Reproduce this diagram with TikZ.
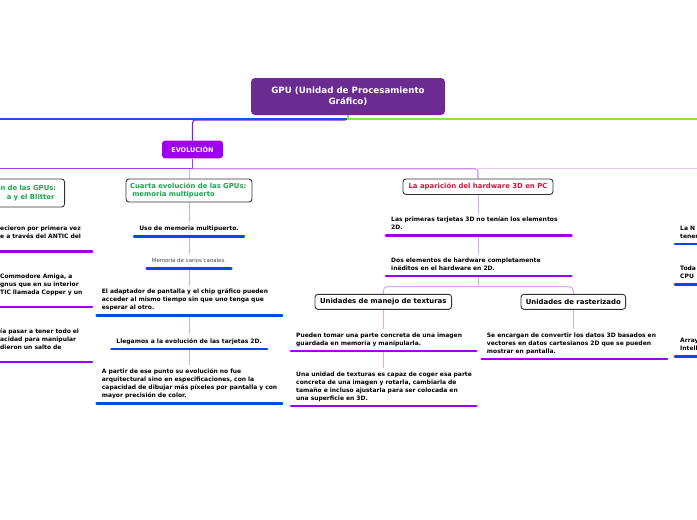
\documentclass[tikz,border=0pt]{standalone}
\usepackage{fontspec}
\setmainfont{DejaVu Sans}
\usetikzlibrary{backgrounds}
\definecolor{titlec}{HTML}{6B2C91}
\definecolor{evoc}{HTML}{A000F0}
\definecolor{blueline}{HTML}{1E50D8}
\definecolor{purpline}{HTML}{8A1CD8}
\definecolor{greenline}{HTML}{8FE33C}
\definecolor{evoline}{HTML}{A23BE6}
\definecolor{lvio}{HTML}{CE8CF5}
\definecolor{llvio}{HTML}{E6C6F8}
\definecolor{colline}{HTML}{E0A6FF}
\definecolor{ublue}{HTML}{0A47EA}
\definecolor{upurp}{HTML}{9900F0}
\definecolor{greentxt}{HTML}{18A650}
\definecolor{redtxt}{HTML}{D3143C}
\definecolor{hdrc}{HTML}{333333}
\definecolor{memc}{HTML}{444444}
\begin{document}
\begin{tikzpicture}[x=1pt,y=-1pt,
  titlebox/.style={fill=titlec, rounded corners=4pt, text=white, font=\fontsize{8.7}{11}\selectfont\bfseries, align=center, minimum width=194pt, minimum height=37pt, inner sep=0pt},
  evobox/.style={fill=evoc, rounded corners=3pt, text=white, font=\fontsize{6.5}{8}\selectfont\bfseries, minimum width=61pt, minimum height=17.6pt, inner sep=0pt},
  hdr/.style={draw=hdrc, line width=0.9pt, fill=white, rounded corners=3pt, font=\fontsize{6.9}{8.6}\selectfont\bfseries, inner sep=0pt},
  item/.style={fill=white, font=\fontsize{6}{7.9}\selectfont\bfseries, inner xsep=5pt, inner ysep=3.4pt, align=left, text width=180pt, anchor=south west, execute at end node=\strut},
  litem/.style={item, inner xsep=0pt, text width=91.7pt},
  sitem/.style={fill=white, font=\fontsize{6}{7.9}\selectfont\bfseries, inner xsep=5pt, inner ysep=3.4pt, anchor=south, execute at end node=\strut},
  ul/.style={line width=2.7pt, line cap=round},
  bus/.style={line width=1.1pt},
  col/.style={colline, line width=1pt}
]
\useasboundingbox (0,0) rectangle (697,520);

% bus coordinates
\coordinate (busL) at (0,119);
\coordinate (busP) at (0,120);
\coordinate (busR) at (697,119);
\coordinate (bus2L) at (0,168.7);
\coordinate (bus2R) at (697,168.7);
\coordinate (split) at (0,286.7);

% main nodes
\node[titlebox] (title) at (348,96.5) {GPU (Unidad de Procesamiento\\Gráfico)};
\node[evobox] (evo) at (192.5,149.5) {EVOLUCIÓN};

% headings
\node[hdr, text=greentxt, anchor=east, minimum height=28pt, align=right, text width=70pt, inner xsep=8.3pt] (left) at (65,193) {ón de las GPUs:\\a y el Blitter\hspace*{1.7pt}};
\node[hdr, text=greentxt, minimum width=126pt, minimum height=23pt, text width=118pt, align=left] (cuarta) at (189,190.5) {Cuarta evolución de las GPUs:\\\ memoria multipuerto};
\node[hdr, text=redtxt, minimum width=150pt, minimum height=15.5pt] (apar) at (478,186.7) {La aparición del hardware 3D en PC};
\node[hdr, text=black, minimum width=136.7pt, minimum height=15pt] (tex) at (383.3,301.8) {Unidades de manejo de texturas};
\node[hdr, text=black, minimum width=104.7pt, minimum height=15pt] (rast) at (573.3,301.8) {Unidades de rasterizado};

% left column items (text sits higher above its underline)
\node[litem] (l1) at (0,244.7) {ecieron por primera vez\\e a través del ANTIC del};
\node[litem] (l2) at (0,300.2) {Commodore Amiga, a\\gnus que en su interior\\TIC llamada Copper y un};
\node[litem] (l3) at (0,355.2) {ía pasar a tener todo el\\acidad para manipular\\dieron un salto de};

% cuarta column items
\node[sitem] (c1) at (189,236.7) {Uso de memoria multipuerto.};
\node[sitem, font=\fontsize{5.4}{7}\selectfont, text=memc] (c2) at (189,268.3) {Memoria de varios canales.};
\node[item] (c3) at (96.7,315.7) {El adaptador de pantalla y el chip gráfico pueden\\acceder al mismo tiempo sin que uno tenga que\\esperar al otro.};
\node[sitem] (c4) at (189.2,349) {Llegamos a la evolución de las tarjetas 2D.};
\node[item] (c5) at (96.7,403.3) {A partir de ese punto su evolución no fue\\arquitectural sino en especificaciones, con la\\capacidad de dibujar más píxeles por pantalla y con\\mayor precisión de color.};

% aparicion column items
\node[item] (a1) at (386,235.7) {Las primeras tarjetas 3D no tenían los elementos\\2D.};
\node[item] (a2) at (386,276) {Dos elementos de hardware completamente\\inéditos en el hardware en 2D.};
\node[item] (t1) at (291,351) {Pueden tomar una parte concreta de una imagen\\guardada en memoria y manipularla.};
\node[item] (t2) at (291,406) {Una unidad de texturas es capaz de coger esa parte\\concreta de una imagen y rotarla, cambiarla de\\tamaño e incluso ajustarla para ser colocada en\\una superficie en 3D.};
\node[item] (r1) at (481.7,359) {Se encargan de convertir los datos 3D basados en\\vectores en datos cartesianos 2D que se pueden\\mostrar en pantalla.};

% far right items
\node[item] (f1) at (675,244) {La N\\tener};
\node[item] (f2) at (675,284.3) {Toda\\CPU};
\node[item] (f3) at (675,356.7) {Array\\Intell};

% underlines
\foreach \n in {l1,l2,l3}{\draw[ul, upurp] ([yshift=-6.8pt]\n.south west) -- ([yshift=-6.8pt]\n.south east);}
\foreach \n in {c1,c2,c4}{\draw[ul, ublue] (\n.south west) -- (\n.south east);}
\foreach \n in {c3,c5}{\draw[ul, ublue] (\n.south west) -- ([xshift=-5pt]\n.south east);}
\foreach \n in {a1,a2,t1,t2,r1}{\draw[ul, upurp] (\n.south west) -- ([xshift=-5pt]\n.south east);}
\foreach \n in {f1,f2,f3}{\draw[ul, ublue] (\n.south west) -- ([xshift=-5pt]\n.south east);}

% connectors
\begin{scope}[on background layer]
  \fill[white] (0,0) rectangle (697,520);
  \draw[bus, blueline] (title.south) |- (busL);
  \draw[bus, purpline, rounded corners=3pt] (title.south) |- (evo.north |- busP) -- (evo.north);
  \draw[bus, greenline] (title.south) |- (busR);
  \draw[evoline, line width=1.5pt] (evo.south) |- (bus2L);
  \draw[bus, lvio, rounded corners=3pt] (evo.south |- bus2L) -| (apar.north);
  \draw[bus, llvio] (apar.north |- bus2L) -- (bus2R);
  \draw[col] (cuarta.north |- bus2L) -- (cuarta.north);
  \draw[col] (cuarta.south) -- (cuarta.south |- c5.north);
  \draw[col] (apar.south) -- (apar.south |- split);
  \draw[col, rounded corners=4pt] (apar.south |- split) -| (tex.north);
  \draw[col, rounded corners=4pt] (apar.south |- split) -| (rast.north);
  \draw[col] (tex.south) -- (tex.south |- t2.north);
  \draw[col] (rast.south) -- (rast.south |- r1.north);
\end{scope}
\end{tikzpicture}
\end{document}
